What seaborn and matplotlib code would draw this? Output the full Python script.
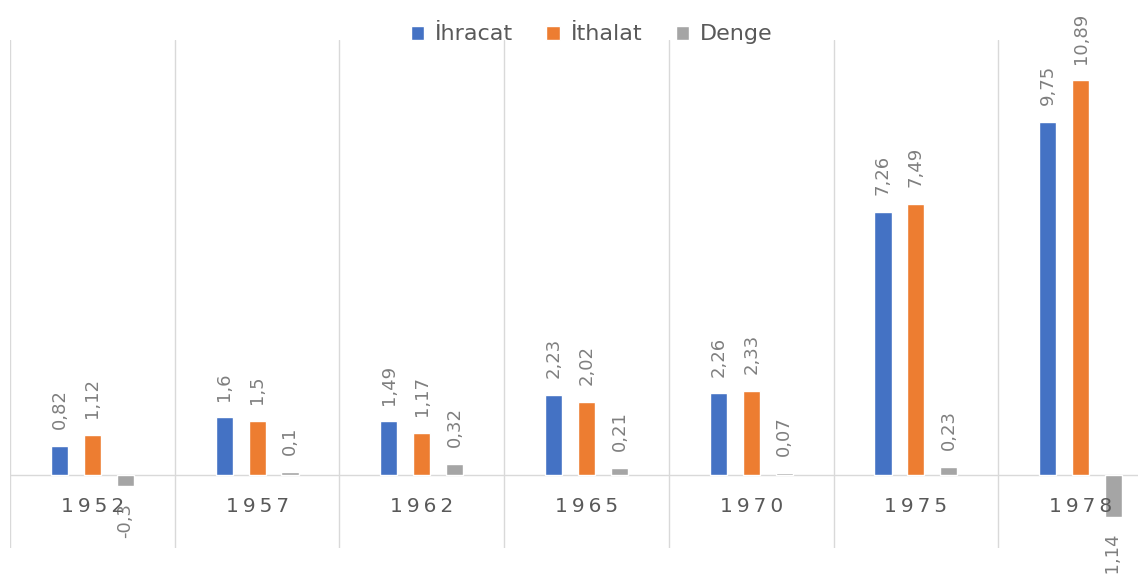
import numpy as np
import pandas as pd
import seaborn as sns
import matplotlib.pyplot as plt

# Chart data
years = ['1952', '1957', '1962', '1965', '1970', '1975', '1978']
ihracat = [0.82, 1.6, 1.49, 2.23, 2.26, 7.26, 9.75]
ithalat = [1.12, 1.5, 1.17, 2.02, 2.33, 7.49, 10.89]
denge = [-0.3, 0.1, 0.32, 0.21, 0.07, 0.23, -1.14]
series = ['İhracat', 'İthalat', 'Denge']
colors = ['#4472C4', '#ED7D31', '#A5A5A5']

# Long format table for seaborn
df = pd.DataFrame({
    'Yıl': years * 3,
    'Değer': ihracat + ithalat + denge,
    'Seri': [s for s in series for _ in years],
})

sns.set_style('white')
plt.rcParams['font.family'] = ['DejaVu Sans']

fig = plt.figure(figsize=(11.38, 5.74), dpi=100)
ax = fig.add_axes([10 / 1138, 26 / 574, 1153 / 1138, 508 / 574])

sns.barplot(
    data=df,
    x='Yıl',
    y='Değer',
    hue='Seri',
    hue_order=series,
    palette=colors,
    width=0.6,
    gap=0.48,
    saturation=1,
    ax=ax,
)

ax.set_xlim(-0.5, len(years) - 0.5)
ax.set_ylim(-2, 12)

# Value labels, rotated like the original
for container, vals in zip(ax.containers, [ihracat, ithalat, denge]):
    labels = [str(v).replace('.', ',') for v in vals]
    ax.bar_label(container, labels=labels, rotation=90, padding=12,
                 fontsize=13, color='#7f7f7f')

# Gridlines between categories and the zero line
ax.set_xticks(np.arange(-0.5, len(years)), minor=True)
ax.grid(which='minor', axis='x', color='#d9d9d9', linewidth=1)
ax.axhline(0, color='#d9d9d9', linewidth=1, zorder=0.5)
ax.set_axisbelow(True)

# Category labels next to the zero line
ax.set_xticks(range(len(years)))
ax.set_xticklabels([])
ax.tick_params(axis='both', which='both', length=0)
ax.set_yticks([])
for i, yr in enumerate(years):
    ax.text(i, -0.86, '\u2009'.join(yr), ha='center', va='center',
            fontsize=14.5, color='#595959')

ax.set_xlabel('')
ax.set_ylabel('')
for s in ax.spines.values():
    s.set_visible(False)

# Legend at the top
handles, lbls = ax.get_legend_handles_labels()
ax.legend_.remove()
fig.legend(handles, lbls, loc='center', bbox_to_anchor=(0.52, 0.94),
           ncol=3, frameon=False, fontsize=16, handlelength=0.6,
           handleheight=0.6, handletextpad=0.5, columnspacing=1.5,
           labelcolor='#595959')

plt.savefig('out.png', dpi=100)
